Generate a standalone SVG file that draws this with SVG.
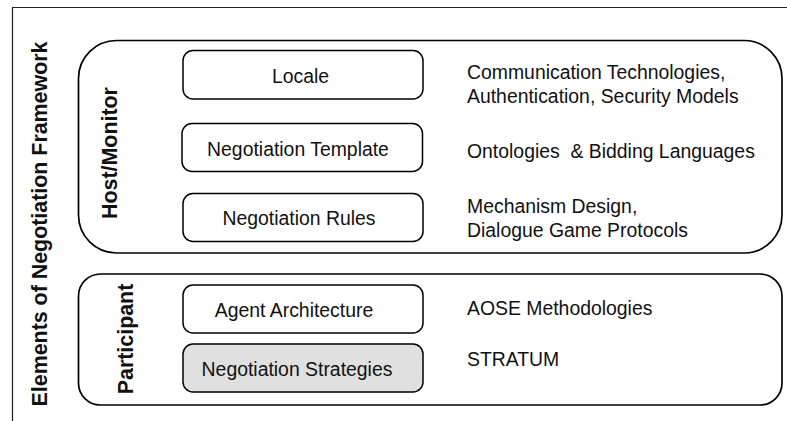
<svg xmlns="http://www.w3.org/2000/svg" width="787" height="421" viewBox="0 0 787 421">
<style>
.frame{fill:none;stroke:#222;stroke-width:1.2}
.group{fill:#fff;stroke:#000;stroke-width:1.7}
.box{fill:#fff;stroke:#000;stroke-width:1.5}
.box.shaded{fill:#e0e0e0}
.t{font-family:"Liberation Sans",Arial,sans-serif;font-size:19.4px;fill:#111}
.c{text-anchor:middle}
.b{font-family:"Liberation Sans",Arial,sans-serif;font-size:21.4px;font-weight:bold;fill:#111;text-anchor:middle}
</style>
<rect width="787" height="421" fill="#fff"/>
<g id="frame">
<path class="frame" d="M12.5,421 V7.5 H787"/>
<text class="b" transform="translate(47,224) rotate(-90)">Elements of Negotiation Framework</text>
</g>
<g id="host-monitor">
<rect class="group" x="78.5" y="40.5" width="703.5" height="212.5" rx="38" ry="38"/>
<text class="b" transform="translate(117,153) rotate(-90)">Host/Monitor</text>
</g>
<g id="participant">
<rect class="group" x="78.5" y="274" width="703.5" height="131" rx="22" ry="22"/>
<text class="b" transform="translate(133,339) rotate(-90)">Participant</text>
</g>
<g id="locale">
<rect class="box" x="183" y="50.5" width="240" height="48.5" rx="10" ry="10"/>
<text class="t c" x="300.5" y="83">Locale</text>
</g>
<g id="negotiation-template">
<rect class="box" x="182" y="123.5" width="240.5" height="48" rx="10" ry="10"/>
<text class="t c" x="298" y="156">Negotiation Template</text>
</g>
<g id="negotiation-rules">
<rect class="box" x="183" y="193.5" width="240" height="48" rx="10" ry="10"/>
<text class="t c" x="299" y="225">Negotiation Rules</text>
</g>
<g id="agent-architecture">
<rect class="box" x="183" y="285" width="240" height="48" rx="10" ry="10"/>
<text class="t c" x="294" y="317">Agent Architecture</text>
</g>
<g id="negotiation-strategies">
<rect class="box shaded" x="183" y="344" width="240" height="48" rx="10" ry="10"/>
<text class="t c" x="297" y="376">Negotiation Strategies</text>
</g>
<g id="descriptions">
<text class="t" x="467" y="79">Communication Technologies,</text>
<text class="t" x="467" y="103">Authentication, Security Models</text>
<text class="t" x="467" y="158" xml:space="preserve">Ontologies  &amp; Bidding Languages</text>
<text class="t" x="467" y="213">Mechanism Design,</text>
<text class="t" x="467" y="237">Dialogue Game Protocols</text>
<text class="t" x="467" y="315">AOSE Methodologies</text>
<text class="t" x="467" y="366">STRATUM</text>
</g>
<g id="connectors"></g>
</svg>
